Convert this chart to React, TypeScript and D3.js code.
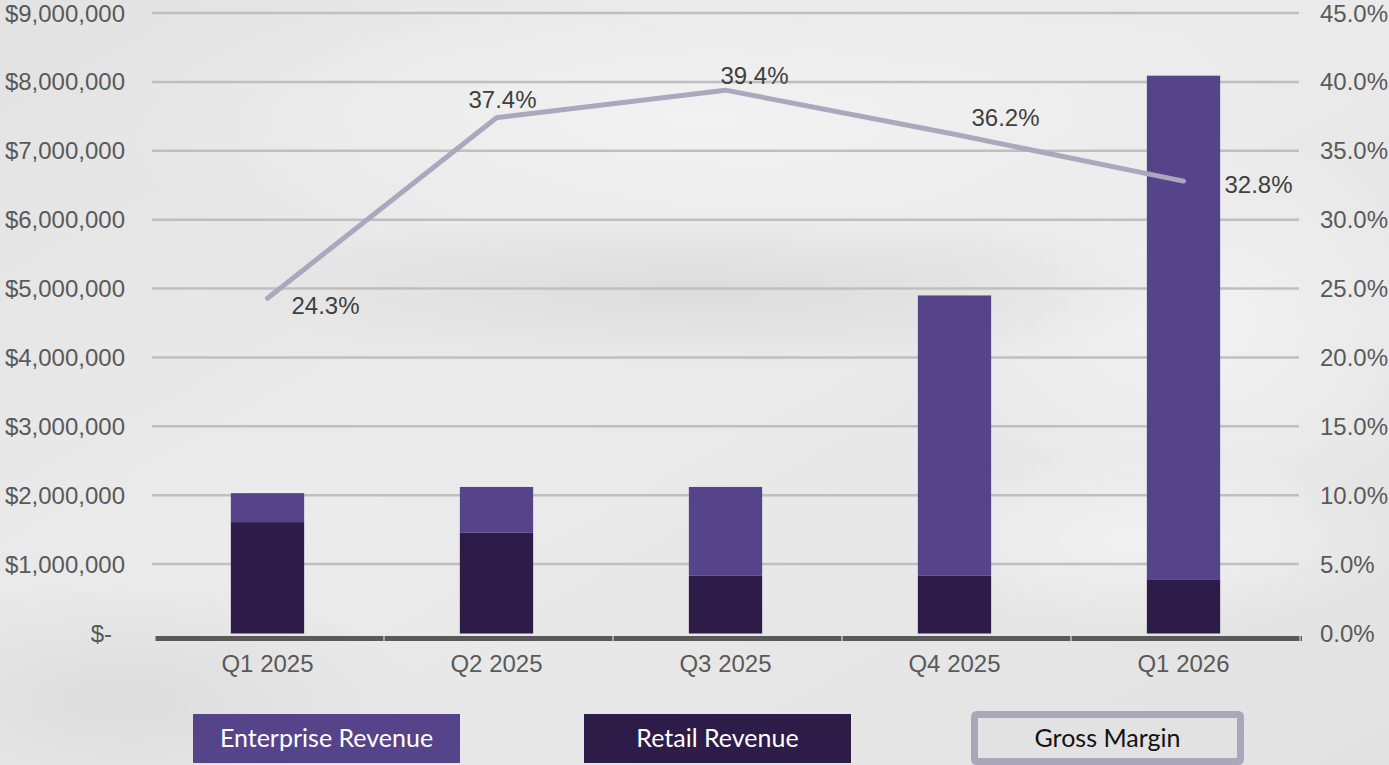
import React from "react";
import * as d3 from "d3";

const categories = ["Q1 2025", "Q2 2025", "Q3 2025", "Q4 2025", "Q1 2026"];
const retailRevenue = [1610000, 1460000, 830000, 830000, 770000];
const enterpriseRevenue = [420000, 660000, 1290000, 4070000, 7320000];
const grossMargin = [24.3, 37.4, 39.4, 36.2, 32.8];
const leftTicks = [0, 1000000, 2000000, 3000000, 4000000, 5000000, 6000000, 7000000, 8000000, 9000000];
const rightTicks = [0, 5, 10, 15, 20, 25, 30, 35, 40, 45];
const legendItems = ["Enterprise Revenue", "Retail Revenue", "Gross Margin"];

// label placement offsets (layout, not data): dx, dy relative to point, anchor
const marginLabelLayout = [
  { dx: 24, dy: 16, anchor: "start" },
  { dx: 6, dy: -10, anchor: "middle" },
  { dx: 29, dy: -6, anchor: "middle" },
  { dx: 51, dy: -8, anchor: "middle" },
  { dx: 41, dy: 12, anchor: "start" },
];

const W = 1389;
const H = 765;
const FONT = "'Liberation Sans', Arial, Helvetica, sans-serif";
const C_ENT = "#56448b";
const C_RET = "#2d1b48";
const C_LINE = "#aba7bd";

export default function App() {
  React.useEffect(() => {
    document.body.style.margin = "0";
  }, []);

  const x = d3.scaleBand<string>().domain(categories).range([153, 1298]).paddingInner(0.68).paddingOuter(0.34);
  const yL = d3.scaleLinear().domain([0, 9000000]).range([633, 13]);
  const yR = d3.scaleLinear().domain([0, 45]).range([633, 13]);
  const bw = x.bandwidth();
  const fmtMoney = (v: number) => (v === 0 ? "$-" : "$" + d3.format(",")(v));
  const fmtPct = (v: number) => d3.format(".1f")(v) + "%";

  const line = d3
    .line<number>()
    .x((_, i) => (x(categories[i]) as number) + bw / 2)
    .y((d) => yR(d));

  const boundaries = d3.range(categories.length + 1).map((i) => 155 + x.step() * i);

  return (
    <svg width={W} height={H} style={{ position: "fixed", left: 0, top: 0, display: "block" }} fontFamily={FONT}>
      <defs>
        <linearGradient id="bgGrad" x1="0" y1="0" x2="1" y2="1">
          <stop offset="0" stopColor="#e3e3e3" />
          <stop offset="0.45" stopColor="#ebebeb" />
          <stop offset="1" stopColor="#e2e2e2" />
        </linearGradient>
        <radialGradient id="spot1" cx="0.5" cy="0.5" r="0.5">
          <stop offset="0" stopColor="#f3f3f3" stopOpacity="0.9" />
          <stop offset="1" stopColor="#f3f3f3" stopOpacity="0" />
        </radialGradient>
        <radialGradient id="spot2" cx="0.5" cy="0.5" r="0.5">
          <stop offset="0" stopColor="#d6d6d6" stopOpacity="0.7" />
          <stop offset="1" stopColor="#d6d6d6" stopOpacity="0" />
        </radialGradient>
      </defs>
      <rect x={0} y={0} width={W} height={H} fill="url(#bgGrad)" />
      <ellipse cx={700} cy={120} rx={600} ry={160} fill="url(#spot1)" />
      <ellipse cx={1200} cy={330} rx={260} ry={200} fill="url(#spot1)" />
      <ellipse cx={1150} cy={540} rx={260} ry={90} fill="url(#spot1)" />
      <ellipse cx={120} cy={700} rx={300} ry={120} fill="url(#spot2)" />
      <ellipse cx={700} cy={290} rx={500} ry={80} fill="url(#spot2)" />

      {/* gridlines */}
      {leftTicks.slice(1).map((t) => (
        <line key={t} x1={152} x2={1299} y1={yL(t)} y2={yL(t)} stroke="#bfbfbf" strokeWidth={2.5} />
      ))}

      {/* bars */}
      {categories.map((c, i) => {
        const x0 = x(c) as number;
        const r = retailRevenue[i];
        const e = enterpriseRevenue[i];
        return (
          <g key={c}>
            <rect x={x0} y={yL(r)} width={bw} height={yL(0) - yL(r)} fill={C_RET} />
            <rect x={x0} y={yL(r + e)} width={bw} height={yL(r) - yL(r + e)} fill={C_ENT} />
            <line x1={x0} x2={x0 + bw} y1={yL(0) + 0.5} y2={yL(0) + 0.5} stroke="#8a7fa5" strokeWidth={1} />
          </g>
        );
      })}

      {/* x axis */}
      <line x1={155} x2={1302} y1={638.5} y2={638.5} stroke="#595959" strokeWidth={5} />
      {boundaries.map((b, i) => (
        <line key={i} x1={b} x2={b} y1={636} y2={642} stroke="#d9d9d9" strokeWidth={1.2} />
      ))}
      {categories.map((c) => (
        <text key={c} x={(x(c) as number) + bw / 2} y={672} fontSize={24} fill="#595959" textAnchor="middle">
          {c}
        </text>
      ))}

      {/* left axis labels */}
      {leftTicks.map((t) => (
        <text
          key={t}
          x={t === 0 ? 112 : 125}
          y={yL(t) + 8.5}
          fontSize={24}
          fill="#595959"
          textAnchor="end"
        >
          {fmtMoney(t)}
        </text>
      ))}

      {/* right axis labels */}
      {rightTicks.map((t) => (
        <text key={t} x={1320} y={yR(t) + 8.5} fontSize={24} fill="#595959" textAnchor="start">
          {fmtPct(t)}
        </text>
      ))}

      {/* gross margin line */}
      <path d={line(grossMargin) || ""} fill="none" stroke={C_LINE} strokeWidth={5} strokeLinecap="round" strokeLinejoin="round" />
      {grossMargin.map((g, i) => {
        const px = (x(categories[i]) as number) + bw / 2;
        const py = yR(g);
        const L = marginLabelLayout[i];
        return (
          <text key={i} x={px + L.dx} y={py + L.dy} fontSize={24} fill="#404040" textAnchor={L.anchor as any}>
            {fmtPct(g)}
          </text>
        );
      })}

      {/* legend */}
      <g fontFamily="Lato, 'Open Sans', sans-serif" fontSize={25}>
        <rect x={193} y={714} width={267} height={49} fill={C_ENT} />
        <text x={326.5} y={747} fill="#ffffff" textAnchor="middle">
          {legendItems[0]}
        </text>
        <rect x={584} y={714} width={267} height={49} fill={C_RET} />
        <text x={717.5} y={747} fill="#ffffff" textAnchor="middle">
          {legendItems[1]}
        </text>
        <rect x={974.5} y={714.5} width={266} height={47} rx={2} fill="#e2e2e2" stroke="#aba7ba" strokeWidth={7} />
        <text x={1107.5} y={747} fill="#111111" textAnchor="middle">
          {legendItems[2]}
        </text>
      </g>
    </svg>
  );
}
